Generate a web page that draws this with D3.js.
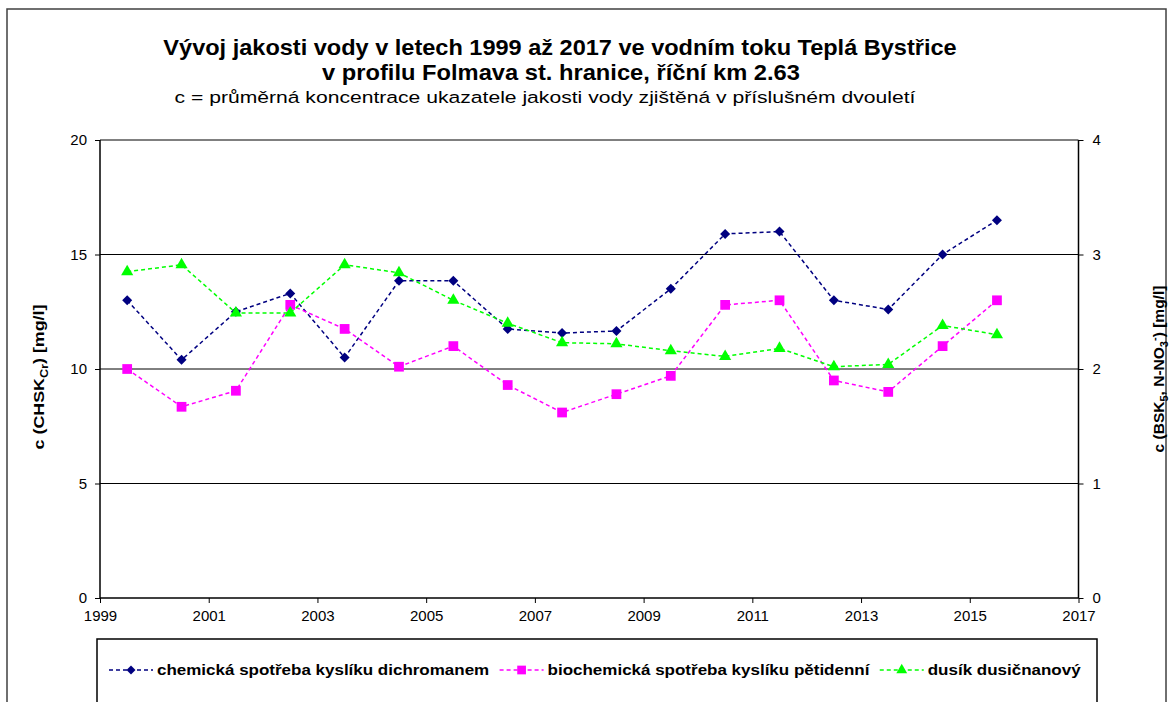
<!DOCTYPE html>
<html><head><meta charset="utf-8">
<script src="https://cdn.jsdelivr.net/npm/d3@7"></script>
<style>body{margin:0;background:#fff}svg{display:block;font-family:"Liberation Sans",Arial,sans-serif}</style>
</head><body>
<svg id="c" width="1173" height="702"></svg>
<script>
const years = [1999.5,2000.5,2001.5,2002.5,2003.5,2004.5,2005.5,2006.5,2007.5,2008.5,2009.5,2010.5,2011.5,2012.5,2013.5,2014.5,2015.5];
const chsk = [13.0,10.4,12.5,13.3,10.5,13.85,13.85,11.75,11.57,11.66,13.5,15.9,16.0,13.0,12.6,15.0,16.5];
const bsk = [2.0,1.67,1.81,2.56,2.35,2.02,2.2,1.86,1.62,1.78,1.94,2.56,2.6,1.9,1.8,2.2,2.6];
const nno3 = [2.85,2.91,2.49,2.49,2.91,2.84,2.6,2.4,2.23,2.22,2.16,2.11,2.18,2.02,2.04,2.38,2.3];
const xTicks = [1999,2001,2003,2005,2007,2009,2011,2013,2015,2017];
const yLeftTicks = [0,5,10,15,20];
const yRightTicks = [0,1,2,3,4];
const seriesNames = ["chemická spotřeba kyslíku dichromanem","biochemická spotřeba kyslíku pětidenní","dusík dusičnanový"];
const titleLines = ["Vývoj jakosti vody v letech 1999 až 2017 ve vodním toku Teplá Bystřice","v profilu Folmava st. hranice, říční km 2.63"];
const subtitle = "c = průměrná koncentrace ukazatele jakosti vody zjištěná v příslušném dvouletí";

const svg = d3.select("#c");
const L=100,R=1078.5,T=140,B=598;
const x = d3.scaleLinear().domain([1999,2017]).range([L,R]);
const yl = d3.scaleLinear().domain([0,20]).range([B,T]);
const yr = d3.scaleLinear().domain([0,4]).range([B,T]);

function fitText(sel, cx, cy, target, rot){
  const w = sel.node().getBBox().width;
  const sx = target / w;
  sel.attr("transform",`translate(${cx},${cy})${rot?` rotate(${rot})`:""} scale(${sx},1)`);
}

// outer frame
svg.append("rect").attr("x",7).attr("y",9).attr("width",1159).attr("height",720)
  .attr("fill","none").attr("stroke","#404040").attr("stroke-width",1.5);

// titles
const t1 = svg.append("text").attr("text-anchor","middle").attr("font-weight","bold").attr("font-size",22).text(titleLines[0]);
fitText(t1,560,55,794);
const t2 = svg.append("text").attr("text-anchor","middle").attr("font-weight","bold").attr("font-size",22).text(titleLines[1]);
fitText(t2,561,80,478);
const t3 = svg.append("text").attr("text-anchor","middle").attr("font-size",17).text(subtitle);
fitText(t3,545,103,742);

// gridlines
svg.append("g").selectAll("line").data(yLeftTicks.filter(d=>d>0)).join("line")
  .attr("x1",L).attr("x2",R).attr("y1",d=>yl(d)).attr("y2",d=>yl(d))
  .attr("stroke","#000").attr("stroke-width",1);

// axes
const gL = svg.append("g").attr("transform",`translate(${L},0)`)
  .call(d3.axisLeft(yl).tickValues(yLeftTicks).tickFormat(d3.format("d")).tickSize(5).tickPadding(8));
const gR = svg.append("g").attr("transform",`translate(${R},0)`)
  .call(d3.axisRight(yr).tickValues(yRightTicks).tickFormat(d3.format("d")).tickSize(5).tickPadding(9));
const gB = svg.append("g").attr("transform",`translate(0,${B})`)
  .call(d3.axisBottom(x).tickValues(xTicks).tickFormat(d3.format("d")).tickSize(5).tickPadding(7));
[gL,gR,gB].forEach(g=>{
  g.select(".domain").attr("stroke","#000").attr("stroke-width",1.5);
  g.selectAll(".tick line").attr("stroke","#000");
  g.selectAll(".tick text").attr("font-size",15).attr("fill","#000").attr("font-family","Liberation Sans, Arial, sans-serif");
});
gB.select(".domain").attr("d",`M${L},0H${R}`);
gL.select(".domain").attr("d",`M0,${B}V${T}`);
gR.select(".domain").attr("d",`M0,${B}V${T}`);

// axis titles
const lt = svg.append("text").attr("text-anchor","middle").attr("font-weight","bold").attr("font-size",14);
lt.append("tspan").text("c (CHSK");
lt.append("tspan").attr("font-size",10).attr("dy",4).text("Cr");
lt.append("tspan").attr("dy",-4).text(") [mg/l]");
fitText(lt,44,377,145,-90);
const rt = svg.append("text").attr("text-anchor","middle").attr("font-weight","bold").attr("font-size",14);
rt.append("tspan").text("c (BSK");
rt.append("tspan").attr("font-size",10).attr("dy",4).text("5");
rt.append("tspan").attr("dy",-4).text(", N-NO");
rt.append("tspan").attr("font-size",10).attr("dy",4).text("3");
rt.append("tspan").attr("font-size",10).attr("dy",-10).text("-");
rt.append("tspan").attr("dy",6).text(") [mg/l]");
fitText(rt,1164,369,167,-90);

// series
const series = [
  {vals:chsk, y:yl, color:"#000080", sym:d3.symbolDiamond2, size:64},
  {vals:bsk, y:yr, color:"#FF00FF", sym:d3.symbolSquare, size:95},
  {vals:nno3, y:yr, color:"#00FF00", sym:d3.symbolTriangle, size:64}
];
series.forEach(s=>{
  const line = d3.line().x((d,i)=>x(years[i])).y(d=>s.y(d));
  svg.append("path").datum(s.vals).attr("d",line).attr("fill","none")
    .attr("stroke",s.color).attr("stroke-width",1.5).attr("stroke-dasharray","4,3");
  svg.append("g").selectAll("path").data(s.vals).join("path")
    .attr("transform",(d,i)=>`translate(${x(years[i])},${s.y(d)})`)
    .attr("d",d3.symbol().type(s.sym).size(s.size)).attr("fill",s.color);
});

// legend
svg.append("rect").attr("x",97).attr("y",639).attr("width",1000).attr("height",80)
  .attr("fill","none").attr("stroke","#000").attr("stroke-width",1.5);
let lx = 109;
const ly = 670;
series.forEach((s,k)=>{
  const g = svg.append("g");
  g.append("line").attr("x1",lx).attr("x2",lx+44).attr("y1",ly).attr("y2",ly)
    .attr("stroke",s.color).attr("stroke-width",1.5).attr("stroke-dasharray","4,3");
  g.append("path").attr("transform",`translate(${lx+22},${ly})`)
    .attr("d",d3.symbol().type(s.sym).size(s.size*0.8)).attr("fill",s.color);
  const probe = g.append("text").attr("font-weight","bold").attr("font-size",17).text(seriesNames[k]);
  const target = probe.node().getComputedTextLength();
  probe.remove();
  const t = g.append("text").attr("font-weight","bold").attr("font-size",14.5).text(seriesNames[k]);
  const w = t.node().getComputedTextLength();
  t.attr("transform",`translate(${lx+48},${ly+5}) scale(${target/w},1)`);
  lx += 48 + target + 10;
});
</script>
</body></html>
